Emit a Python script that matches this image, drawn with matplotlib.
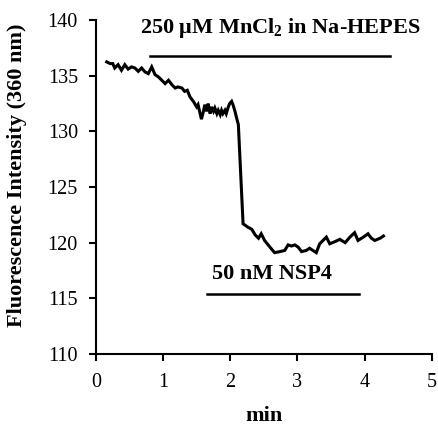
import matplotlib
matplotlib.use("Agg")
import matplotlib.pyplot as plt

plt.rcParams['font.family'] = ['Liberation Serif', 'DejaVu Serif']
plt.rcParams['mathtext.fontset'] = 'custom'
plt.rcParams['mathtext.rm'] = 'Liberation Serif:bold'
plt.rcParams['mathtext.it'] = 'Liberation Serif:bold'
plt.rcParams['mathtext.bf'] = 'Liberation Serif:bold'

time_min = [0.16, 0.21, 0.25, 0.28, 0.33, 0.38, 0.43, 0.48, 0.53, 0.58, 0.63, 0.68,
            0.73, 0.78, 0.83, 0.88, 0.93, 0.98, 1.03, 1.08, 1.13, 1.18, 1.22, 1.28,
            1.32, 1.36, 1.40, 1.45, 1.50, 1.52, 1.57, 1.60, 1.62, 1.65, 1.67, 1.70,
            1.72, 1.75, 1.77, 1.80, 1.82, 1.85, 1.87, 1.89, 1.92, 1.94, 1.97, 1.99,
            2.02, 2.04, 2.07, 2.09, 2.12, 2.19, 2.26, 2.32, 2.37, 2.42, 2.46,
            2.51, 2.59, 2.66, 2.74, 2.81, 2.86, 2.91, 2.96, 3.01, 3.06, 3.13, 3.18,
            3.23, 3.28, 3.33, 3.38, 3.43, 3.48, 3.56, 3.63, 3.71, 3.78, 3.85, 3.90,
            3.98, 4.05, 4.10, 4.15, 4.23, 4.28]
intensity = [136.25, 136.1, 136.1, 135.7, 136.0, 135.5, 136.0, 135.6, 135.8, 135.7, 135.4, 135.7,
             135.35, 135.2, 135.8, 135.1, 134.9, 134.6, 134.3, 134.6, 134.2, 133.9, 134.0, 133.9,
             133.6, 133.7, 133.1, 132.7, 132.2, 132.4, 131.1, 131.8, 132.4, 131.8, 132.5, 131.6,
             132.2, 131.8, 132.1, 131.6, 131.9, 131.5, 131.9, 131.6, 131.9, 131.6, 132.2, 132.5,
             132.7, 132.4, 131.8, 131.3, 130.6, 121.7, 121.4, 121.2, 120.7, 120.4, 120.8,
             120.2, 119.6, 119.1, 119.2, 119.3, 119.8, 119.7, 119.8, 119.6, 119.2, 119.3, 119.5,
             119.3, 119.1, 119.9, 120.2, 120.5, 119.9, 120.1, 120.3, 120.0, 120.5, 120.9, 120.2,
             120.5, 120.8, 120.4, 120.2, 120.4, 120.6]

mn_bar = [0.81, 4.38]
mn_level = 136.8
mn_label = r'250 μM MnCl$_2$ in Na-HEPES'
nsp_bar = [1.66, 3.92]
nsp_level = 115.4
nsp_label = '50 nM NSP4'

x_ticks = [0, 1, 2, 3, 4, 5]
y_ticks = [110, 115, 120, 125, 130, 135, 140]

fig = plt.figure(figsize=(4.38, 4.29), dpi=100)
ax = fig.add_axes([0.219, 0.175, 0.767, 0.778])
ax.plot(time_min, intensity, color='black', lw=2.2, solid_joinstyle='miter')
ax.plot(mn_bar, [mn_level, mn_level], color='black', lw=1.8)
ax.plot(nsp_bar, [nsp_level, nsp_level], color='black', lw=1.8)
ax.text(2.74, 139.3, mn_label, ha='center', va='center', fontsize=16, fontweight='bold')
ax.text(2.62, 117.2, nsp_label, ha='center', va='center', fontsize=16, fontweight='bold')

ax.set_xlim(0, 5)
ax.set_ylim(110, 140)
ax.set_xticks(x_ticks)
ax.set_yticks(y_ticks)
ax.spines['top'].set_visible(False)
ax.spines['right'].set_visible(False)
ax.spines['left'].set_linewidth(1.5)
ax.spines['bottom'].set_linewidth(1.5)
ax.tick_params(direction='out', length=5, width=1.5, labelsize=14.5)
ax.tick_params(axis='x', pad=9)
ax.tick_params(axis='y', pad=8)
ax.set_xlabel('min', fontsize=16, fontweight='bold', labelpad=10)
ax.set_ylabel('Fluorescence Intensity (360 nm)', fontsize=16, fontweight='bold')
ax.yaxis.set_label_coords(-0.205, 0.535)

fig.savefig('out.png', dpi=100)
